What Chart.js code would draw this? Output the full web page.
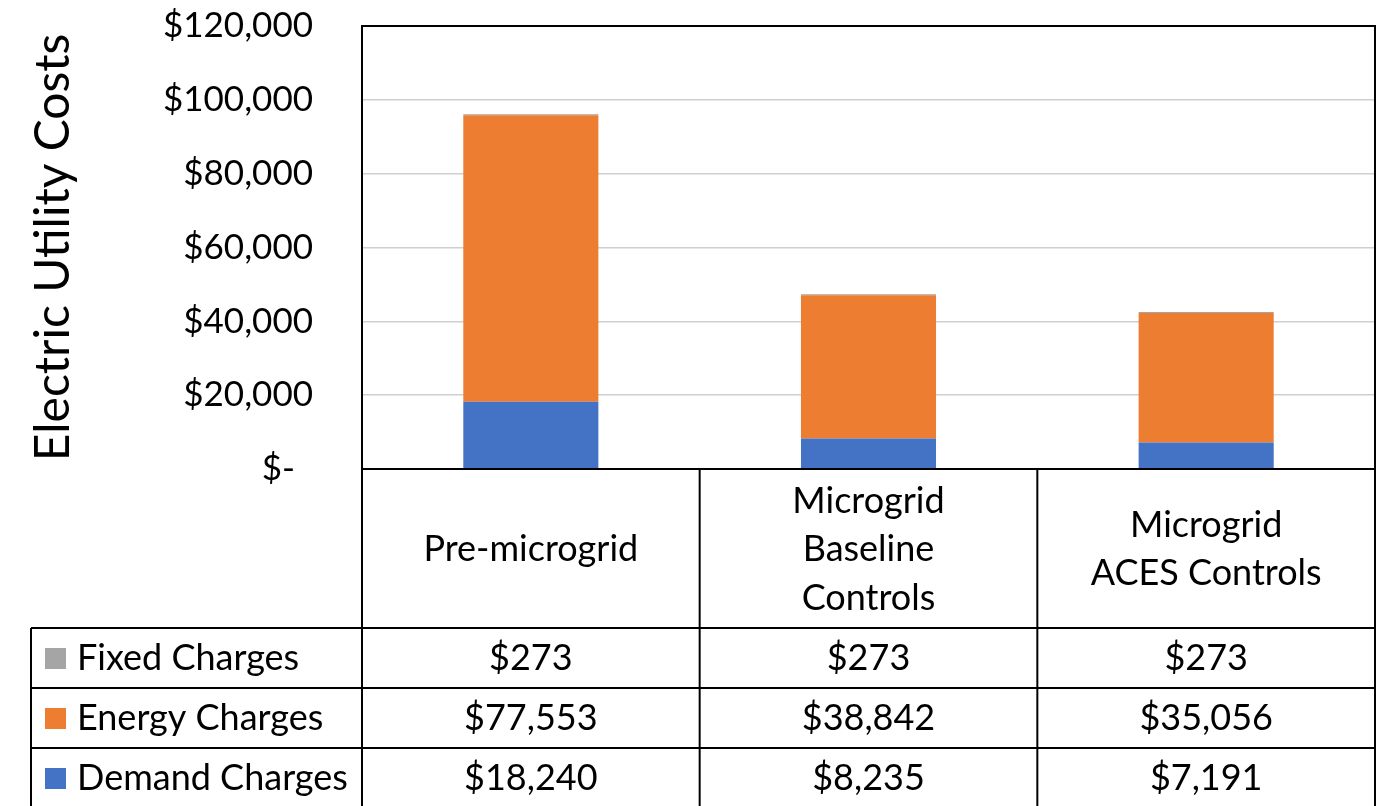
<!DOCTYPE html>
<html>
<head>
<meta charset="utf-8">
<script src="https://cdn.jsdelivr.net/npm/chart.js@4/dist/chart.umd.min.js"></script>
<style>
  html, body { margin: 0; padding: 0; background: #ffffff; }
  #wrap { width: 1379px; height: 806px; }
</style>
</head>
<body>
<div id="wrap"><canvas id="c" width="1379" height="806"></canvas></div>
<script>
// Scenarios (columns of the data table)
const categories = [
  ['Pre-microgrid'],
  ['Microgrid', 'Baseline', 'Controls'],
  ['Microgrid', 'ACES Controls']
];

// Cost components per scenario, in dollars
const demandCharges = [18240, 8235, 7191];
const energyCharges = [77553, 38842, 35056];
const fixedCharges = [273, 273, 273];

// Y axis ticks
const yTicks = [0, 20000, 40000, 60000, 80000, 100000, 120000];

const seriesNames = ['Demand Charges', 'Energy Charges', 'Fixed Charges'];
const seriesColors = ['#4472C4', '#ED7D31', '#A5A5A5'];

const FONT = 'Lato';
const TABLE_TXT = 36;
const TICK_TXT = 35;

function money(v) {
  return '$' + v.toLocaleString('en-US');
}

// Draws the plot frame and the data table under the bars
const dataTable = {
  id: 'dataTable',
  afterDraw(chart) {
    const ctx = chart.ctx;
    const x = chart.scales.x;
    const area = chart.chartArea;
    const n = categories.length;
    const colW = (area.right - area.left) / n;
    const headerBottom = 628;
    const rowH = 60;
    const tableLeft = 31;
    const bottomEdge = chart.height + 4;

    const rows = [
      { name: seriesNames[2], color: seriesColors[2], values: fixedCharges },
      { name: seriesNames[1], color: seriesColors[1], values: energyCharges },
      { name: seriesNames[0], color: seriesColors[0], values: demandCharges }
    ];

    ctx.save();
    ctx.strokeStyle = '#000000';
    ctx.lineWidth = 2;

    // Plot frame
    ctx.beginPath();
    ctx.moveTo(area.left, area.bottom);
    ctx.lineTo(area.left, area.top);
    ctx.lineTo(area.right, area.top);
    ctx.lineTo(area.right, area.bottom);
    ctx.stroke();

    // Table grid
    ctx.beginPath();
    ctx.moveTo(area.left, area.bottom);
    ctx.lineTo(area.right, area.bottom);
    for (let i = 0; i <= n; i++) {
      const cx = area.left + i * colW;
      ctx.moveTo(cx, area.bottom);
      ctx.lineTo(cx, bottomEdge);
    }
    ctx.moveTo(tableLeft, headerBottom);
    ctx.lineTo(tableLeft, bottomEdge);
    for (let r = 0; r < rows.length; r++) {
      const ry = headerBottom + r * rowH;
      ctx.moveTo(tableLeft, ry);
      ctx.lineTo(area.right, ry);
    }
    ctx.stroke();

    ctx.fillStyle = '#000000';
    ctx.font = TABLE_TXT + 'px ' + FONT;
    ctx.textAlign = 'center';
    ctx.textBaseline = 'middle';

    // Category headers
    const headerMid = (area.bottom + headerBottom) / 2;
    const lh = 48.5;
    for (let i = 0; i < n; i++) {
      const cx = x.getPixelForValue(i);
      const lines = categories[i];
      const y0 = headerMid - (lines.length - 1) * lh / 2;
      lines.forEach((t, k) => ctx.fillText(t, cx, y0 + k * lh + 1));
    }

    // Value rows with legend keys
    rows.forEach((row, r) => {
      const cy = headerBottom + r * rowH + rowH / 2;
      ctx.fillStyle = row.color;
      ctx.fillRect(45, cy - 10, 21, 21);
      ctx.fillStyle = '#000000';
      ctx.textAlign = 'left';
      ctx.fillText(row.name, 77, cy);
      ctx.textAlign = 'center';
      for (let i = 0; i < n; i++) {
        ctx.fillText(money(row.values[i]), x.getPixelForValue(i), cy);
      }
    });
    ctx.restore();
  }
};

new Chart(document.getElementById('c'), {
  type: 'bar',
  data: {
    labels: categories.map(c => c.join(' ')),
    datasets: [
      { label: seriesNames[0], data: demandCharges, backgroundColor: seriesColors[0] },
      { label: seriesNames[1], data: energyCharges, backgroundColor: seriesColors[1] },
      { label: seriesNames[2], data: fixedCharges, backgroundColor: seriesColors[2] }
    ]
  },
  options: {
    responsive: false,
    animation: false,
    devicePixelRatio: 1,
    layout: { padding: { top: 26, right: 4, bottom: 337, left: 0 } },
    datasets: { bar: { barPercentage: 0.4, categoryPercentage: 1.0, borderWidth: 0 } },
    plugins: { legend: { display: false }, tooltip: { enabled: false } },
    scales: {
      x: { stacked: true, display: false },
      y: {
        stacked: true,
        min: 0,
        max: 120000,
        afterBuildTicks(scale) { scale.ticks = yTicks.map(v => ({ value: v })); },
        afterFit(scale) { scale.width = 362; },
        border: { display: false },
        grid: {
          color: (c) => (c.tick && (c.tick.value === 0 || c.tick.value === 120000)) ? 'rgba(0,0,0,0)' : '#cfcfcf',
          lineWidth: 1.5,
          drawTicks: true,
          tickLength: 46,
          tickColor: 'rgba(0,0,0,0)'
        },
        ticks: {
          padding: 3,
          color: '#000000',
          font: { family: FONT, size: TICK_TXT },
          callback: (v) => v === 0 ? '$-  ' : money(v)
        },
        title: {
          display: true,
          text: 'Electric Utility Costs',
          color: '#000000',
          font: { family: FONT, size: 48, lineHeight: 1.2 },
          padding: { top: 25, bottom: 0 }
        }
      }
    }
  },
  plugins: [dataTable]
});
</script>
</body>
</html>
